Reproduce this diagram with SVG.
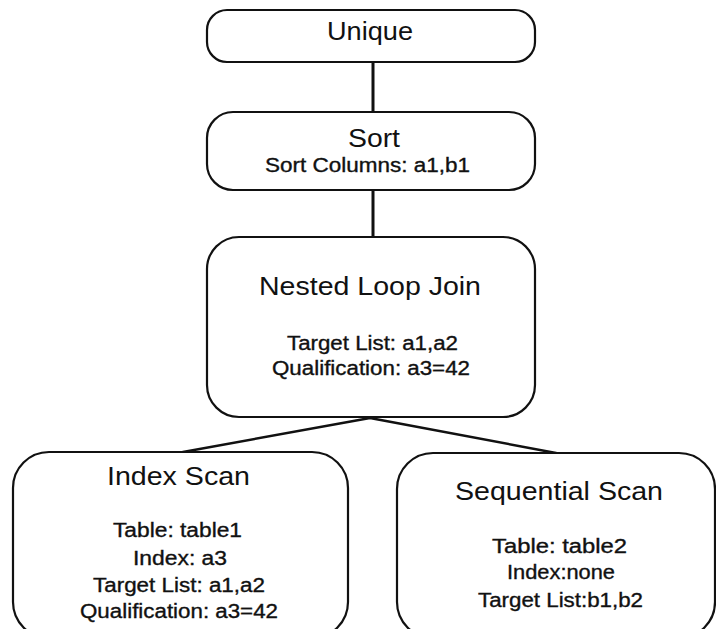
<svg xmlns="http://www.w3.org/2000/svg" width="716" height="629" viewBox="0 0 716 629">
<style>
.box{fill:#fff;stroke:#111;stroke-width:2.2}
.edge{stroke:#111;fill:none;stroke-linecap:round}
text{font-family:"Liberation Sans",Arial,Helvetica,sans-serif;fill:#111}
.t{font-size:25px}
.b{font-size:20px;stroke:#111;stroke-width:0.35}
</style>
<rect width="716" height="629" fill="#fff"/>
<g id="connectors">
<line class="edge" x1="373" y1="62" x2="373" y2="112" stroke-width="3"/>
<line class="edge" x1="373" y1="190" x2="373" y2="237" stroke-width="3"/>
<line class="edge" x1="370" y1="418" x2="183" y2="452" stroke-width="2.5"/>
<line class="edge" x1="370" y1="418" x2="556" y2="453" stroke-width="2.5"/>
</g>
<g id="unique">
<rect class="box" x="207" y="10" width="328" height="52" rx="20"/>
<text class="t" x="327" y="40" textLength="86" lengthAdjust="spacingAndGlyphs">Unique</text>
</g>
<g id="sort">
<rect class="box" x="207" y="112" width="328" height="78" rx="26"/>
<text class="t" x="348" y="147" textLength="52" lengthAdjust="spacingAndGlyphs">Sort</text>
<text class="b" x="265" y="172" font-size="19" textLength="205" lengthAdjust="spacingAndGlyphs">Sort Columns: a1,b1</text>
</g>
<g id="nlj">
<rect class="box" x="207" y="237" width="328" height="180" rx="32"/>
<text class="t" x="259" y="295" textLength="222" lengthAdjust="spacingAndGlyphs">Nested Loop Join</text>
<text class="b" x="287" y="350" textLength="171" lengthAdjust="spacingAndGlyphs">Target List: a1,a2</text>
<text class="b" x="272" y="375" textLength="198" lengthAdjust="spacingAndGlyphs">Qualification: a3=42</text>
</g>
<g id="indexscan">
<rect class="box" x="13" y="452" width="335" height="186" rx="36"/>
<text class="t" x="107" y="485" textLength="143" lengthAdjust="spacingAndGlyphs">Index Scan</text>
<text class="b" x="113" y="537" textLength="129" lengthAdjust="spacingAndGlyphs">Table: table1</text>
<text class="b" x="133" y="565" textLength="94" lengthAdjust="spacingAndGlyphs">Index: a3</text>
<text class="b" x="93" y="592" textLength="172" lengthAdjust="spacingAndGlyphs">Target List: a1,a2</text>
<text class="b" x="80" y="618" textLength="198" lengthAdjust="spacingAndGlyphs">Qualification: a3=42</text>
</g>
<g id="seqscan">
<rect class="box" x="397" y="453" width="318" height="185" rx="36"/>
<text class="t" x="455" y="500" textLength="208" lengthAdjust="spacingAndGlyphs">Sequential Scan</text>
<text class="b" x="492" y="553" textLength="135" lengthAdjust="spacingAndGlyphs">Table: table2</text>
<text class="b" x="507" y="579" textLength="108" lengthAdjust="spacingAndGlyphs">Index:none</text>
<text class="b" x="478" y="607" textLength="165" lengthAdjust="spacingAndGlyphs">Target List:b1,b2</text>
</g>
</svg>
